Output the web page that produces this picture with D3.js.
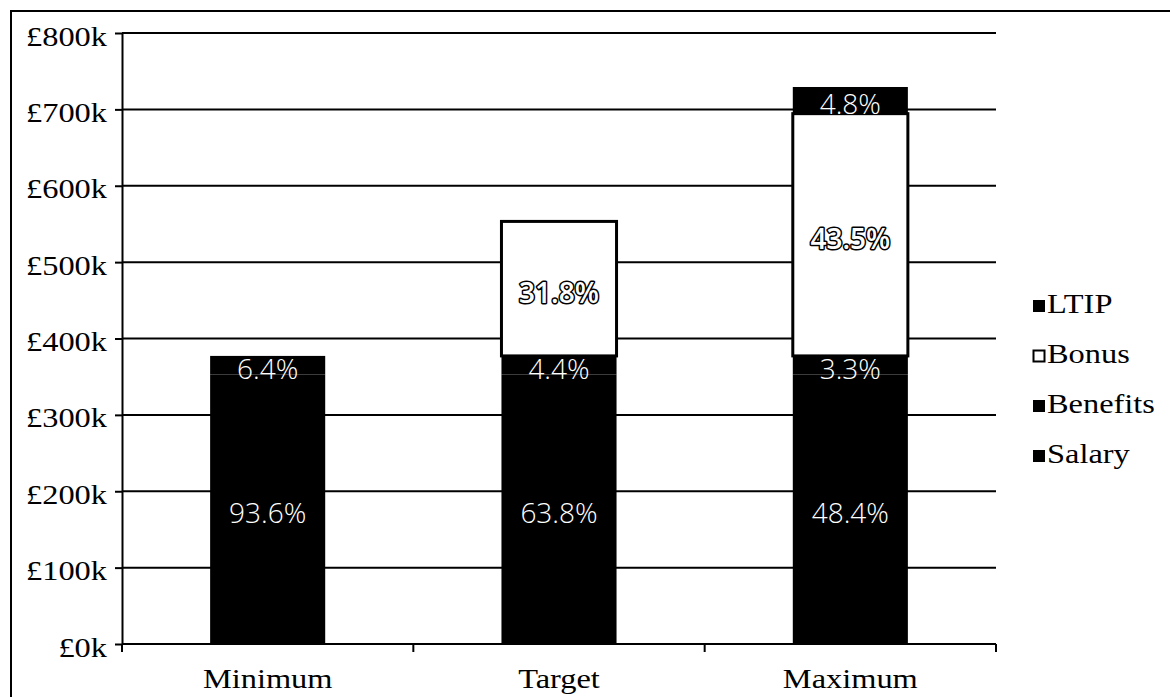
<!DOCTYPE html>
<html>
<head>
<meta charset="utf-8">
<script src="https://cdn.jsdelivr.net/npm/d3@7"></script>
<style>
  html, body { margin: 0; padding: 0; background: #fff; }
  svg { display: block; }
</style>
</head>
<body>
<svg id="chart" width="1170" height="697"></svg>
<script>
// Pay scenarios, values in £k
const categories = ["Minimum", "Target", "Maximum"];
const salary   = [353, 353, 353];
const benefits = [24.2, 24.2, 24.2];
const bonus    = [0, 176.1, 317.2];
const ltip     = [0, 0, 34.9];
const seriesNames = ["Salary", "Benefits", "Bonus", "LTIP"];
const legendOrder = ["LTIP", "Bonus", "Benefits", "Salary"];
const yTicks = [0, 100, 200, 300, 400, 500, 600, 700, 800];

const fills = { Salary: "#000", Benefits: "#000", Bonus: "#fff", LTIP: "#000" };
const serif = "'Liberation Serif', 'Times New Roman', serif";
const pctFont = "'Open Sans', 'Liberation Sans', sans-serif";
const stretch = 1.2;

const rows = categories.map((c, i) => ({
  category: c, Salary: salary[i], Benefits: benefits[i], Bonus: bonus[i], LTIP: ltip[i]
}));
rows.forEach(r => { r.total = seriesNames.reduce((s, k) => s + r[k], 0); });

const svg = d3.select("#chart");
const plot = { left: 122, right: 996, top: 33, bottom: 644 };

const x = d3.scaleBand().domain(categories).range([plot.left, plot.right]).padding(0);
const y = d3.scaleLinear().domain([0, 800]).range([plot.bottom, plot.top]);
const barW = x.bandwidth() * 0.395;

// outer frame (open at right and bottom)
svg.append("path")
  .attr("d", `M11,700 L11,11 L1175,11`)
  .attr("fill", "none").attr("stroke", "#000").attr("stroke-width", 2);

// horizontal gridlines
svg.append("g").selectAll("line")
  .data(yTicks.filter(t => t > 0))
  .join("line")
  .attr("x1", plot.left).attr("x2", plot.right)
  .attr("y1", d => y(d)).attr("y2", d => y(d))
  .attr("stroke", "#000").attr("stroke-width", 2);

// stacked bars
const stacked = d3.stack().keys(seriesNames)(rows);
const layers = svg.append("g").selectAll("g")
  .data(stacked)
  .join("g");

layers.selectAll("rect")
  .data(d => d.map(p => ({ key: d.key, y0: p[0], y1: p[1], row: p.data })).filter(p => p.y1 - p.y0 > 0))
  .join("rect")
  .attr("x", d => x(d.row.category) + (x.bandwidth() - barW) / 2)
  .attr("width", barW)
  .attr("y", d => y(d.y1))
  .attr("height", d => y(d.y0) - y(d.y1))
  .attr("fill", d => fills[d.key])
  .attr("stroke", d => d.key === "Bonus" ? "#000" : "none")
  .attr("stroke-width", 3);

// y axis
const yAxis = svg.append("g")
  .attr("transform", `translate(${plot.left},0)`)
  .call(d3.axisLeft(y).tickValues(yTicks).tickFormat(d => `£${d}k`).tickSize(7).tickSizeOuter(0));
yAxis.select(".domain").attr("stroke-width", 2);
yAxis.selectAll(".tick line").attr("stroke-width", 2);
yAxis.selectAll(".tick text")
  .attr("font-family", serif).attr("font-size", 27).attr("fill", "#000")
  .attr("x", -15 / stretch).attr("dy", null).attr("y", 12)
  .attr("transform", `scale(${stretch},1)`);

// x axis
const xAxis = svg.append("g").attr("transform", `translate(0,${plot.bottom})`);
xAxis.append("line")
  .attr("x1", plot.left).attr("x2", plot.right)
  .attr("stroke", "#000").attr("stroke-width", 2);
const bounds = categories.map(c => x(c)).concat([x(categories[categories.length - 1]) + x.bandwidth()]);
xAxis.selectAll("line.tk")
  .data(bounds)
  .join("line").attr("class", "tk")
  .attr("x1", d => d).attr("x2", d => d)
  .attr("y1", 0).attr("y2", 8)
  .attr("stroke", "#000").attr("stroke-width", 2);
xAxis.selectAll("text")
  .data(categories)
  .join("text")
  .attr("transform", d => `translate(${x(d) + x.bandwidth() / 2},44) scale(${stretch},1)`)
  .attr("text-anchor", "middle")
  .attr("font-family", serif).attr("font-size", 27).attr("fill", "#000")
  .text(d => d);

// percentage labels in each segment
const fmt = d3.format(".1%");
const segs = stacked.flatMap(s => s.map(p => ({ key: s.key, y0: p[0], y1: p[1], row: p.data })))
  .filter(p => p.y1 - p.y0 > 0);
const labels = svg.append("g").selectAll("text")
  .data(segs)
  .join("text")
  .attr("x", d => x(d.row.category) + x.bandwidth() / 2)
  .attr("y", d => (y(d.y0) + y(d.y1)) / 2 + 14)
  .attr("text-anchor", "middle")
  .attr("font-family", pctFont)
  .attr("font-size", 28)
  .attr("font-weight", d => d.key === "Bonus" ? 600 : 300)
  .attr("fill", "#fff")
  .attr("stroke", d => d.key === "Bonus" ? "#000" : "none")
  .attr("stroke-width", d => d.key === "Bonus" ? 3 : 0)
  .attr("paint-order", "stroke")
  .attr("stroke-linejoin", "round")
  .text(d => fmt((d.y1 - d.y0) / d.row.total));

// legend
const legend = svg.append("g");
const leg = legend.selectAll("g")
  .data(legendOrder)
  .join("g")
  .attr("transform", (d, i) => `translate(1033,${313 + i * 50})`);
leg.append("rect")
  .attr("x", 0.5).attr("y", -12.5).attr("width", 11).attr("height", 11)
  .attr("fill", d => fills[d])
  .attr("stroke", "#000").attr("stroke-width", d => d === "Bonus" ? 2 : 1);
leg.append("text")
  .attr("transform", `translate(14,0) scale(${stretch},1)`)
  .attr("font-family", serif).attr("font-size", 27).attr("fill", "#000")
  .text(d => d);
</script>
</body>
</html>
